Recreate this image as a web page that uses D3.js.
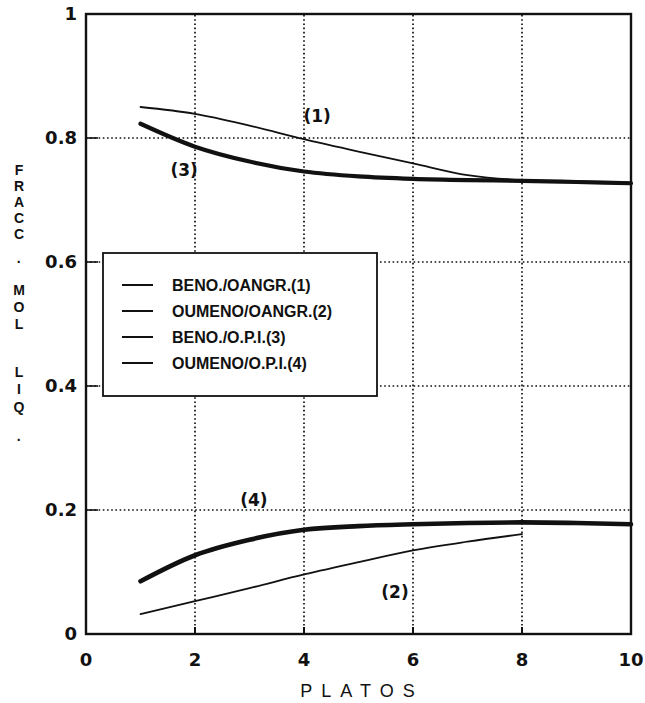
<!DOCTYPE html>
<html>
<head>
<meta charset="utf-8">
<script src="https://cdn.jsdelivr.net/npm/d3@7"></script>
<style>
  body { margin: 0; background: #fff; }
  text { font-family: "DejaVu Sans", sans-serif; fill: #111; }
</style>
</head>
<body>
<svg width="645" height="703"></svg>
<script>
// plate number (x) and liquid mole fraction for each system
var platos = [1, 2, 3, 4, 5, 6, 7, 8, 9, 10];
var benoOangr = [0.850, 0.839, 0.820, 0.798, 0.778, 0.759, 0.740, 0.732, 0.730, 0.728];   // (1)
var oumenoOangr = [0.032, 0.053, 0.074, 0.096, 0.116, 0.135, 0.149, 0.161];               // (2), plates 1-8
var benoOpi = [0.823, 0.786, 0.762, 0.746, 0.738, 0.734, 0.732, 0.731, 0.729, 0.727];     // (3)
var oumenoOpi = [0.085, 0.127, 0.152, 0.168, 0.174, 0.177, 0.179, 0.180, 0.179, 0.177];   // (4)

var legendLabels = ["BENO./OANGR.(1)", "OUMENO/OANGR.(2)", "BENO./O.P.I.(3)", "OUMENO/O.P.I.(4)"];
var tagLabels = ["(1)", "(2)", "(3)", "(4)"];
var tagX = [4.24, 5.67, 1.80, 3.08];
var tagY = [0.835, 0.068, 0.748, 0.217];

var xTicks = [0, 2, 4, 6, 8, 10];
var yTicks = [0, 0.2, 0.4, 0.6, 0.8, 1];
var yTitle = "FRACC. MOL LIQ.";
var xTitle = "PLATOS";

var svg = d3.select("svg");

var x = d3.scaleLinear().domain([0, 10]).range([86, 631]);
var y = d3.scaleLinear().domain([0, 1]).range([634, 14]);

// dotted grid
var grid = svg.append("g")
    .attr("stroke", "#111")
    .attr("stroke-width", 1.7)
    .attr("stroke-dasharray", "1.6,2.6");

grid.selectAll(".gx")
    .data(xTicks.slice(1, -1))
    .enter().append("line")
    .attr("x1", function(d) { return x(d); })
    .attr("x2", function(d) { return x(d); })
    .attr("y1", y(0))
    .attr("y2", y(1));

grid.selectAll(".gy")
    .data(yTicks.slice(1, -1))
    .enter().append("line")
    .attr("x1", x(0))
    .attr("x2", x(10))
    .attr("y1", function(d) { return y(d); })
    .attr("y2", function(d) { return y(d); });

// short solid ticks pointing inward
svg.append("g").selectAll("line")
    .data(yTicks.slice(1, -1))
    .enter().append("line")
    .attr("x1", x(0)).attr("x2", x(0) + 12)
    .attr("y1", function(d) { return y(d); })
    .attr("y2", function(d) { return y(d); })
    .attr("stroke", "#111").attr("stroke-width", 1.6);

svg.append("g").selectAll("line")
    .data(xTicks.slice(1, -1))
    .enter().append("line")
    .attr("x1", function(d) { return x(d); })
    .attr("x2", function(d) { return x(d); })
    .attr("y1", y(0)).attr("y2", y(0) - 7)
    .attr("stroke", "#111").attr("stroke-width", 2);

// frame
svg.append("rect")
    .attr("x", x(0))
    .attr("y", y(1))
    .attr("width", x(10) - x(0))
    .attr("height", y(0) - y(1))
    .attr("fill", "none")
    .attr("stroke", "#111")
    .attr("stroke-width", 2.4);

// tick labels
svg.append("g").selectAll("text")
    .data(yTicks)
    .enter().append("text")
    .attr("x", x(0) - 9)
    .attr("y", function(d) { return y(d); })
    .attr("dy", "0.36em")
    .attr("text-anchor", "end")
    .style("font-size", "18px")
    .style("font-weight", "bold")
    .text(function(d) { return d === 0 || d === 1 ? String(d) : d3.format(".1f")(d); });

svg.append("g").selectAll("text")
    .data(xTicks)
    .enter().append("text")
    .attr("x", function(d) { return x(d); })
    .attr("y", y(0) + 32)
    .attr("text-anchor", "middle")
    .style("font-size", "18px")
    .style("font-weight", "bold")
    .text(function(d) { return d; });

// axis titles
svg.append("text")
    .attr("x", 362)
    .attr("y", 697)
    .attr("text-anchor", "middle")
    .style("font-family", "'Liberation Sans', sans-serif")
    .style("font-size", "18px")
    .style("letter-spacing", "9px")
    .text(xTitle);

// vertical title: upright letters stacked
var yTitleY = [170, 186, 202, 218, 234, 262, 0, 290, 307, 324, 0, 372, 389, 407, 440];
var titleChars = yTitle.split("").map(function(c, i) { return { c: c, y: yTitleY[i] }; })
    .filter(function(d) { return d.c !== " "; });

svg.append("g").selectAll("text")
    .data(titleChars)
    .enter().append("text")
    .attr("x", 19)
    .attr("y", function(d) { return d.y + 5; })
    .attr("text-anchor", "middle")
    .style("font-family", "'Liberation Sans', sans-serif")
    .style("font-size", "14px")
    .style("font-weight", "bold")
    .text(function(d) { return d.c === "." ? "\u00b7" : d.c; });

// curves
var line = d3.line()
    .x(function(d) { return x(d[0]); })
    .y(function(d) { return y(d[1]); })
    .curve(d3.curveMonotoneX);

var series = [
    { values: benoOangr, width: 1.8 },
    { values: oumenoOangr, width: 1.8 },
    { values: benoOpi, width: 4.2 },
    { values: oumenoOpi, width: 4.6 }
];

svg.append("g").selectAll("path")
    .data(series)
    .enter().append("path")
    .attr("d", function(s) { return line(s.values.map(function(v, i) { return [platos[i], v]; })); })
    .attr("fill", "none")
    .attr("stroke", "#111")
    .attr("stroke-linecap", "round")
    .attr("stroke-width", function(s) { return s.width; });

// curve tags
svg.append("g").selectAll("text")
    .data(tagLabels)
    .enter().append("text")
    .attr("x", function(d, i) { return x(tagX[i]); })
    .attr("y", function(d, i) { return y(tagY[i]); })
    .attr("dy", "0.36em")
    .attr("text-anchor", "middle")
    .style("font-size", "17px")
    .style("font-weight", "bold")
    .text(function(d) { return d; });

// legend
var legend = svg.append("g").attr("class", "legend");

legend.append("rect")
    .attr("x", 103).attr("y", 253)
    .attr("width", 274).attr("height", 143)
    .attr("fill", "#fff")
    .attr("stroke", "#111")
    .attr("stroke-width", 1.8);

var row = legend.selectAll(".row")
    .data(legendLabels)
    .enter().append("g")
    .attr("class", "row")
    .attr("transform", function(d, i) { return "translate(0," + (285 + i * 26) + ")"; });

row.append("line")
    .attr("x1", 122).attr("x2", 153)
    .attr("stroke", "#111")
    .attr("stroke-width", 2);

row.append("text")
    .attr("x", 172)
    .attr("dy", "0.36em")
    .style("font-family", "'Liberation Sans', sans-serif")
    .style("font-size", "16px")
    .style("font-weight", "bold")
    .text(function(d) { return d; });
</script>
</body>
</html>
